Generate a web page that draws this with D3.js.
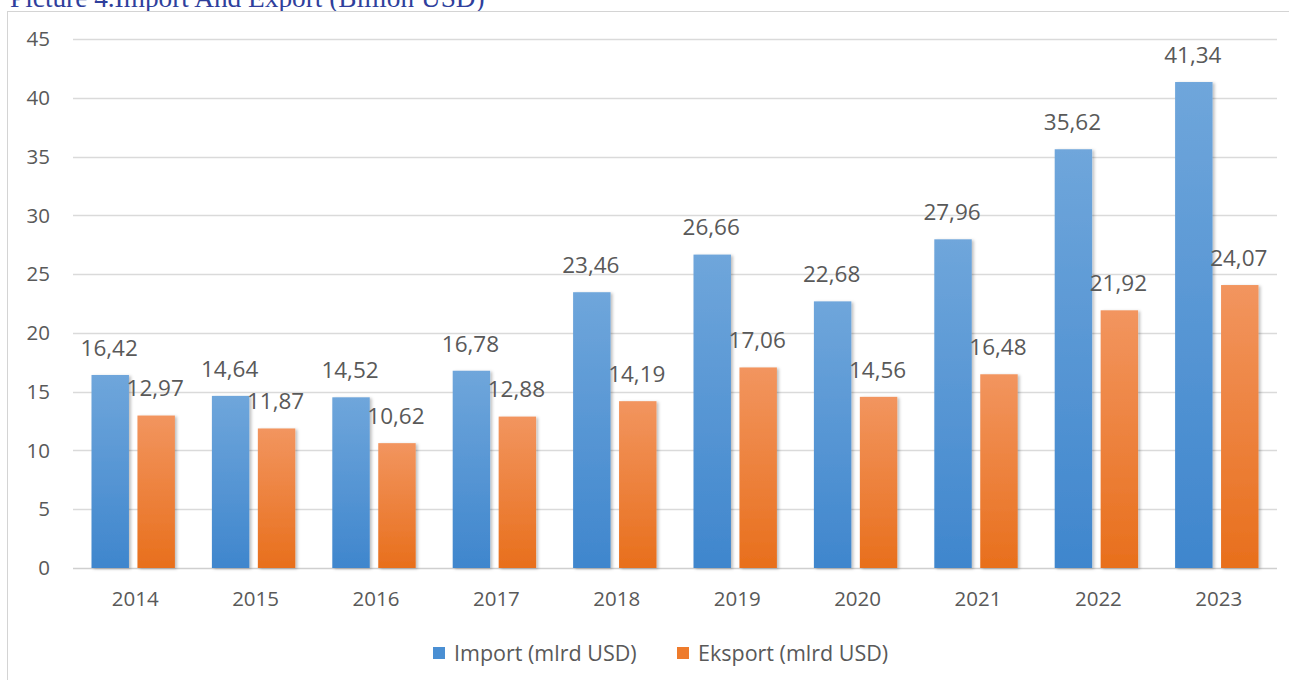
<!DOCTYPE html>
<html lang="en">

<head>
  <meta charset="UTF-8">
  <title>Import And Export</title>
  <style>
    html,
    body {
      margin: 0;
      width: 100%;
      height: 100%;
      overflow: hidden;
      background: #fff;
    }
  </style>
</head>

<body>
  <div id="chart"></div>

  <script src="https://cdn.jsdelivr.net/npm/d3@7/dist/d3.min.js"></script>
  <script>
    // data
    const years = ['2014', '2015', '2016', '2017', '2018', '2019', '2020', '2021', '2022', '2023']
    const importValues = [16.42, 14.64, 14.52, 16.78, 23.46, 26.66, 22.68, 27.96, 35.62, 41.34]
    const exportValues = [12.97, 11.87, 10.62, 12.88, 14.19, 17.06, 14.56, 16.48, 21.92, 24.07]
    const seriesNames = ['Import (mlrd USD)', 'Eksport (mlrd USD)']
    const yTicks = [0, 5, 10, 15, 20, 25, 30, 35, 40, 45]

    const width = 1289
    const height = 680
    const plot = { left: 73, right: 1277, top: 39, bottom: 568 }
    const textColor = '#595959'
    const font = '"Open Sans", "DejaVu Sans", sans-serif'
    const colors = [
      { id: 'gImport', top: '#6fa6db', bottom: '#3f86cd' },
      { id: 'gExport', top: '#f2955f', bottom: '#e86f1c' }
    ]

    const svg = d3.select('#chart').append('svg')
      .attr('width', width)
      .attr('height', height)
      .style('display', 'block')

    const defs = svg.append('defs')
    colors.forEach(c => {
      const g = defs.append('linearGradient')
        .attr('id', c.id)
        .attr('x1', 0).attr('y1', 0).attr('x2', 0).attr('y2', 1)
      g.append('stop').attr('offset', '0%').attr('stop-color', c.top)
      g.append('stop').attr('offset', '100%').attr('stop-color', c.bottom)
    })
    defs.append('filter')
      .attr('id', 'shadow')
      .attr('x', '-20%').attr('y', '-5%').attr('width', '150%').attr('height', '115%')
      .append('feDropShadow')
      .attr('dx', 2).attr('dy', 1).attr('stdDeviation', 1.5)
      .attr('flood-color', '#000').attr('flood-opacity', 0.25)

    // title, cut off at the top like the source
    svg.append('text')
      .attr('x', 10)
      .attr('y', 7)
      .attr('font-family', '"Liberation Serif", "DejaVu Serif", serif')
      .attr('font-size', 27.3)
      .attr('fill', '#2f3f9c')
      .text('Picture 4.Import And Export (Billion USD)')

    // chart frame
    svg.append('rect')
      .attr('x', 7.5)
      .attr('y', 11.5)
      .attr('width', 1320)
      .attr('height', 700)
      .attr('fill', '#fff')
      .attr('stroke', '#d4d4d4')

    const x0 = d3.scaleBand()
      .domain(years)
      .range([plot.left, plot.right])

    const x1 = d3.scaleBand()
      .domain(['import', 'export'])
      .range([18.5, x0.bandwidth() - 18.5])
      .paddingInner(0.185)

    const y = d3.scaleLinear()
      .domain([0, 45])
      .range([plot.bottom, plot.top])

    // grid
    svg.append('g')
      .selectAll('line')
      .data(yTicks)
      .join('line')
      .attr('x1', plot.left)
      .attr('x2', plot.right)
      .attr('y1', d => Math.round(y(d)) + 0.5)
      .attr('y2', d => Math.round(y(d)) + 0.5)
      .attr('stroke', d => d === 0 ? '#cfcfcf' : '#dadada')
      .attr('stroke-width', 1.5)

    // y tick labels
    svg.append('g')
      .selectAll('text')
      .data(yTicks)
      .join('text')
      .attr('x', 50)
      .attr('y', d => y(d))
      .attr('dy', '0.35em')
      .attr('text-anchor', 'end')
      .attr('font-family', font)
      .attr('font-size', 20.5)
      .attr('fill', textColor)
      .text(d => d)

    // x labels
    svg.append('g')
      .selectAll('text')
      .data(years)
      .join('text')
      .attr('x', d => x0(d) + x0.bandwidth() / 2 + 2)
      .attr('y', 599)
      .attr('dy', '0.35em')
      .attr('text-anchor', 'middle')
      .attr('font-family', font)
      .attr('font-size', 20.5)
      .attr('fill', textColor)
      .text(d => d)

    const rows = years.map((yr, i) => [
      { year: yr, key: 'import', value: importValues[i], fill: 'url(#gImport)' },
      { year: yr, key: 'export', value: exportValues[i], fill: 'url(#gExport)' }
    ]).flat()

    const fmt = v => v.toFixed(2).replace('.', ',')

    svg.append('g')
      .selectAll('rect')
      .data(rows)
      .join('rect')
      .attr('x', d => x0(d.year) + x1(d.key))
      .attr('y', d => y(d.value))
      .attr('width', x1.bandwidth())
      .attr('height', d => plot.bottom - y(d.value))
      .attr('fill', d => d.fill)
      .attr('filter', 'url(#shadow)')

    svg.append('g')
      .selectAll('text')
      .data(rows)
      .join('text')
      .attr('x', d => x0(d.year) + x1(d.key) + x1.bandwidth() / 2 - 1)
      .attr('y', d => y(d.value) - 27)
      .attr('dy', '0.35em')
      .attr('text-anchor', 'middle')
      .attr('font-family', font)
      .attr('font-size', 22.5)
      .attr('fill', textColor)
      .text(d => fmt(d.value))

    // legend
    const legendItems = [
      { name: seriesNames[0], fill: '#4a8fd3', x: 433 },
      { name: seriesNames[1], fill: '#ee7b2c', x: 677 }
    ]
    const legend = svg.append('g')
      .selectAll('g')
      .data(legendItems)
      .join('g')
      .attr('transform', d => `translate(${d.x}, 653)`)
    legend.append('rect')
      .attr('x', 0)
      .attr('y', -6)
      .attr('width', 12)
      .attr('height', 12)
      .attr('fill', d => d.fill)
    legend.append('text')
      .attr('x', 21)
      .attr('y', 0)
      .attr('dy', '0.35em')
      .attr('font-family', font)
      .attr('font-size', 21.5)
      .attr('fill', textColor)
      .text(d => d.name)
  </script>
</body>

</html>
